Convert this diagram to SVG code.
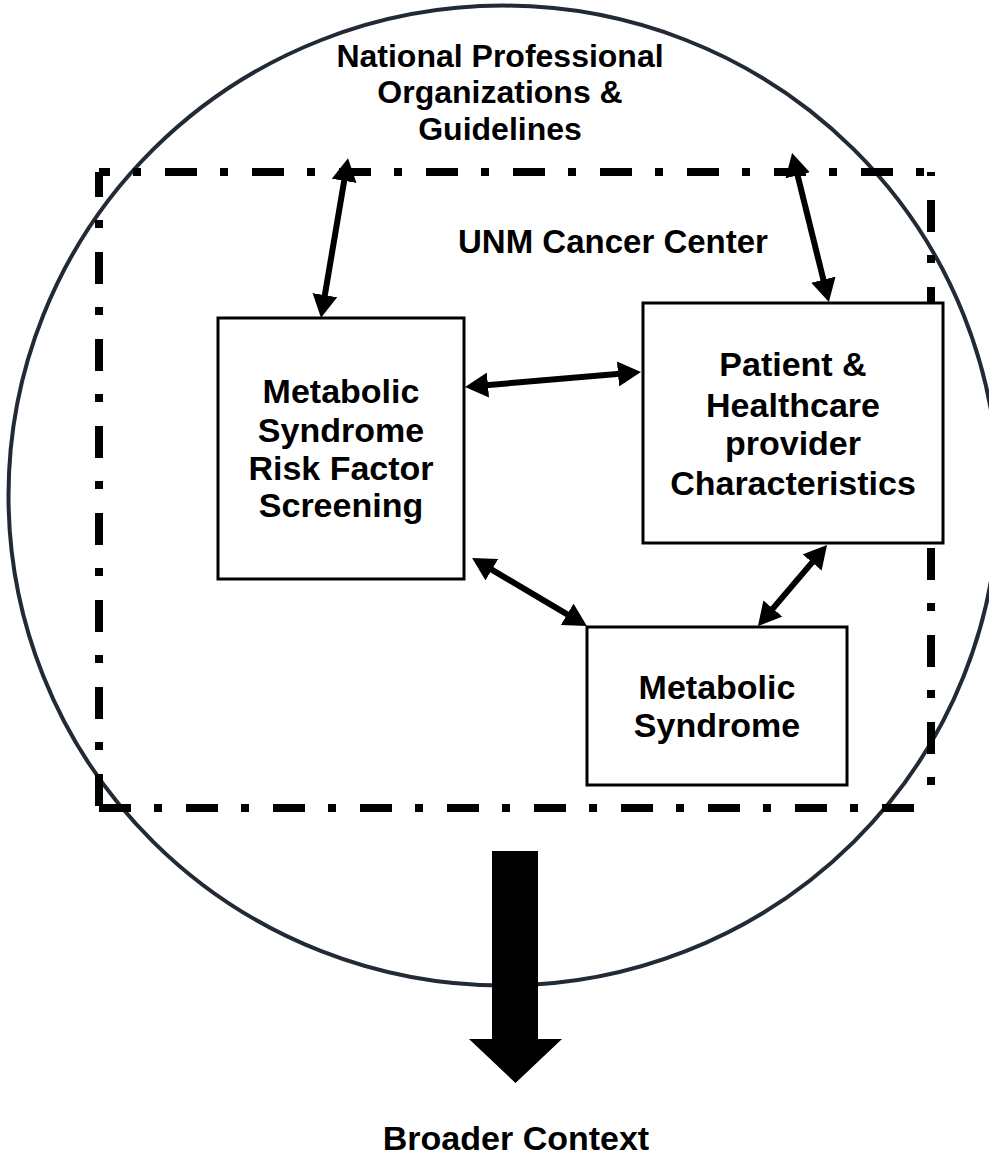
<svg xmlns="http://www.w3.org/2000/svg" width="989" height="1161" viewBox="0 0 989 1161">
  <style>
    .t { font-family: "Liberation Sans", Arial, sans-serif; font-weight: bold; fill: #000; text-anchor: middle; }
    .box { fill: #fff; stroke: #000; stroke-width: 3; }
    .dd { stroke: #000; stroke-width: 8; fill: none; stroke-dasharray: 32 23 8 24; }
    .conn { stroke: #000; stroke-width: 6; fill: none; marker-start: url(#ah); marker-end: url(#ah); }
  </style>
  <defs>
    <marker id="ah" markerUnits="userSpaceOnUse" markerWidth="23" markerHeight="25" viewBox="0 0 23 25" refX="8" refY="12.5" orient="auto-start-reverse">
      <path d="M0,0 L23,12.5 L0,25 z" fill="#000"/>
    </marker>
  </defs>
  <rect width="989" height="1161" fill="#fff"/>

  <g id="context-circle">
    <ellipse cx="503.5" cy="495.6" rx="495" ry="490" fill="none" stroke="#222a35" stroke-width="4"/>
    <text class="t" x="500" y="67" font-size="32">National Professional</text>
    <text class="t" x="500" y="103" font-size="32">Organizations &amp;</text>
    <text class="t" x="500" y="140" font-size="32">Guidelines</text>
  </g>

  <g id="unm-cancer-center">
    <line class="dd" x1="99" y1="172" x2="935" y2="172" stroke-dashoffset="21"/>
    <line class="dd" x1="99" y1="172" x2="99" y2="808" stroke-dashoffset="7"/>
    <line class="dd" x1="931" y1="172" x2="931" y2="808" stroke-dashoffset="59"/>
    <line class="dd" x1="99" y1="808" x2="935" y2="808" stroke-dashoffset="0"/>
    <text class="t" x="613" y="253" font-size="33">UNM Cancer Center</text>
  </g>

  <g id="connectors">
    <line class="conn" x1="345.5" y1="173" x2="323.5" y2="303"/>
    <line class="conn" x1="795.7" y1="167.6" x2="825.3" y2="287.4"/>
    <line class="conn" x1="480" y1="385.7" x2="626" y2="373.3"/>
    <line class="conn" x1="485" y1="565.6" x2="574" y2="618.4"/>
    <line class="conn" x1="817.3" y1="556.4" x2="767.7" y2="614.6"/>
    <polygon id="broader-arrow" points="492,851 538,851 538,1039 562,1039 515.5,1083 469,1039 492,1039" fill="#000"/>
  </g>

  <g id="screening">
    <rect class="box" x="218" y="318" width="246" height="261"/>
    <text class="t" x="341" y="403" font-size="34">Metabolic</text>
    <text class="t" x="341" y="441.5" font-size="34">Syndrome</text>
    <text class="t" x="341" y="480" font-size="34">Risk Factor</text>
    <text class="t" x="341" y="517" font-size="34">Screening</text>
  </g>

  <g id="characteristics">
    <rect class="box" x="643" y="303" width="300" height="240"/>
    <text class="t" x="793" y="376" font-size="34">Patient &amp;</text>
    <text class="t" x="793" y="416.5" font-size="34">Healthcare</text>
    <text class="t" x="793" y="455" font-size="34">provider</text>
    <text class="t" x="793" y="495" font-size="34">Characteristics</text>
  </g>

  <g id="metabolic-syndrome">
    <rect class="box" x="587" y="627" width="260" height="158"/>
    <text class="t" x="717" y="699" font-size="34">Metabolic</text>
    <text class="t" x="717" y="737" font-size="34">Syndrome</text>
  </g>

  <g id="broader-context">
    <text class="t" x="516" y="1150" font-size="34">Broader Context</text>
  </g>
</svg>
